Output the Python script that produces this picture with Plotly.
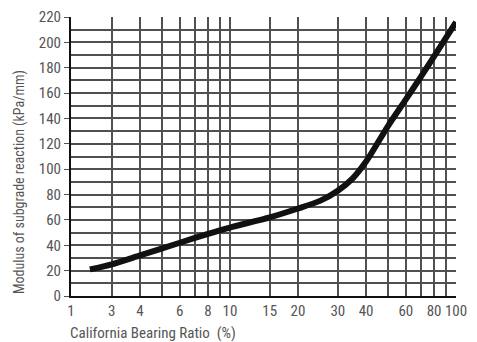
import plotly.graph_objects as go

# Data
cbr = [2.4, 3, 4, 6, 8, 10, 15, 20, 25, 30, 35, 40, 50, 60, 70, 80, 100]
k_mod = [21, 25, 32, 42, 49, 54, 62, 69, 75, 83, 93, 106, 134, 155, 173, 189, 216]

x_tick_vals = [1.98, 3, 4, 6, 8, 10, 15, 20, 30, 40, 60, 80, 100]
x_tick_text = ["1", "3", "4", "6", "8", "10", "15", "20", "30", "40", "60", "80", "100"]
x_minor_grid = [5, 7, 9, 50, 70, 90]

font_family = "Liberation Sans Narrow, Roboto Condensed, Liberation Sans, Arial"
txt_color = "#555555"
grid_color = "#505050"

fig = go.Figure()
fig.add_trace(go.Scatter(
    x=cbr, y=k_mod, mode="lines",
    line=dict(color="#111111", width=6, shape="spline", smoothing=0.7),
    showlegend=False, hoverinfo="skip",
))

fig.update_layout(
    width=477, height=342,
    margin=dict(l=71, r=21, t=17, b=46),
    paper_bgcolor="white", plot_bgcolor="white",
    font=dict(family=font_family, size=15, color=txt_color),
    xaxis=dict(
        type="log", range=[0.2967, 2.0], automargin=False,
        tickmode="array", tickvals=x_tick_vals, ticktext=x_tick_text,
        showgrid=True, gridcolor=grid_color, gridwidth=1.5,
        showline=True, linecolor="#111111", linewidth=2,
        ticks="", zeroline=False,
        tickfont=dict(size=15, color=txt_color),
        minor=dict(tickmode="array", tickvals=x_minor_grid, showgrid=True,
                   gridcolor=grid_color, gridwidth=1.5, ticks=""),
    ),
    yaxis=dict(
        range=[0, 220], tickmode="linear", tick0=0, dtick=20, automargin=False,
        showgrid=True, gridcolor=grid_color, gridwidth=1.5,
        showline=True, linecolor="#111111", linewidth=2,
        ticks="outside", ticklen=5, tickcolor="#555555", zeroline=False,
        tickfont=dict(size=15, color=txt_color),
        minor=dict(dtick=10, showgrid=True, gridcolor=grid_color, gridwidth=1.5, ticks=""),
    ),
    annotations=[
        dict(text="California Bearing Ratio  (%)", xref="paper", yref="paper",
             x=-0.008, y=-0.093, xanchor="left", yanchor="top", showarrow=False,
             font=dict(size=15, color=txt_color, family=font_family)),
        dict(text="Modulus of subgrade reaction (kPa/mm)", xref="paper", yref="paper",
             x=-0.132, y=0.409, xanchor="center", yanchor="middle", textangle=-90,
             showarrow=False, font=dict(size=14, color=txt_color, family=font_family)),
    ],
)

fig.write_html("out.html", config={"displayModeBar": False},
               post_script="document.body.style.margin='0';")
